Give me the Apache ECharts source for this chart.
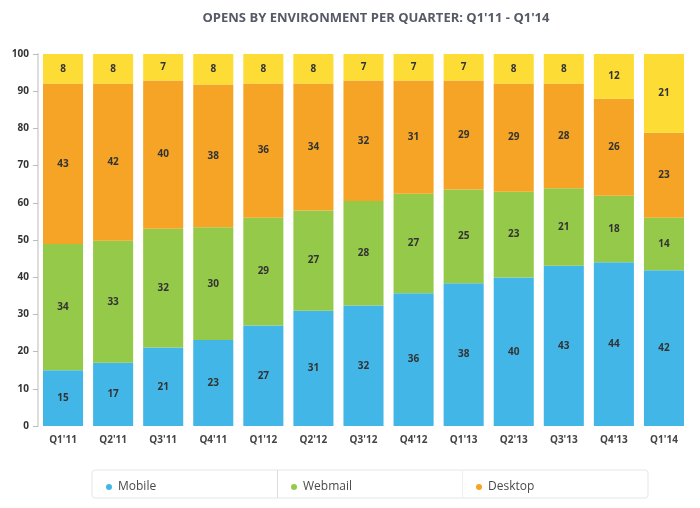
<!DOCTYPE html>
<html><head><meta charset="utf-8">
<script src="https://cdn.jsdelivr.net/npm/echarts@6/dist/echarts.min.js"></script>
<style>html,body{margin:0;padding:0;background:#fff}#c{width:700px;height:508px}</style>
</head><body><div id="c"></div>
<script>
const categories = ["Q1'11","Q2'11","Q3'11","Q4'11","Q1'12","Q2'12","Q3'12","Q4'12","Q1'13","Q2'13","Q3'13","Q4'13","Q1'14"];
const mobile  = [15.0,17.0,21.1,23.1,27.0,31.0,32.4,35.7,38.4,39.9,43.1,44.0,41.9];
const webmail = [33.9,32.8,31.9,30.3,29.0,26.9,28.1,26.7,25.2,23.1,20.8,17.9,14.1];
const desktop = [43.2,42.3,39.9,38.4,36.1,34.2,32.4,30.5,29.3,29.1,28.2,26.1,22.8];
const other   = [7.9,7.9,7.1,8.2,7.9,7.9,7.1,7.1,7.1,7.9,7.9,12.0,21.2];
const yTicks = [0,10,20,30,40,50,60,70,80,90,100];

const colors = {Mobile:'#43b6e8', Webmail:'#95c94a', Desktop:'#f5a425', Other:'#fddd35'};
const chart = echarts.init(document.getElementById('c'), null, {renderer:'canvas'});
const lbl = {show:true, position:'inside', color:'#333', fontSize:10, fontWeight:'bold', fontFamily:'Open Sans',
  formatter: p => Math.round(p.value)};
function mk(name, data){
  return {name, type:'bar', stack:'s', data, barCategoryGap:'20%', itemStyle:{color:colors[name]}, label:lbl, silent:true};
}
function lg(name, left){
  return {data:[{name, icon:'circle'}], left, top:476, itemWidth:6, itemHeight:6, itemGap:0,
    textStyle:{color:'#4a4a4a', fontSize:12, fontFamily:'Open Sans', padding:[0,0,0,1]}, selectedMode:false};
}
chart.setOption({
  animation:false,
  title:{text:"OPENS BY ENVIRONMENT PER QUARTER: Q1'11 - Q1'14", left:371, textAlign:'center', top:7,
    textStyle:{color:'#555a66', fontSize:13, fontWeight:'bold', fontFamily:'Open Sans'}},
  grid:{left:38, right:11, top:54, bottom:82},
  legend:[lg('Mobile',101), lg('Webmail',286), lg('Desktop',471)],
  graphic:[
    {type:'rect', shape:{x:92, y:470, width:556, height:28, r:3}, style:{fill:'#fff', stroke:'#e6e6e6', lineWidth:1}, z:-1},
    {type:'line', shape:{x1:277.5, y1:470, x2:277.5, y2:498}, style:{stroke:'#dcdcdc', lineWidth:1}},
    {type:'line', shape:{x1:462.5, y1:470, x2:462.5, y2:498}, style:{stroke:'#eeeeee', lineWidth:1}}
  ],
  xAxis:{type:'category', data:categories, axisLine:{show:false}, axisTick:{show:false},
    axisLabel:{color:'#444', fontSize:10, fontWeight:'bold', fontFamily:'Open Sans', margin:9}},
  yAxis:{type:'value', min:0, max:100, interval:10, splitLine:{show:false},
    axisLine:{show:true, lineStyle:{color:'#dddddd', width:2}},
    axisTick:{show:true, length:5, lineStyle:{color:'#bbbbbb'}},
    axisLabel:{color:'#333', fontSize:10, fontWeight:'bold', fontFamily:'Open Sans', margin:9,
      formatter: v => yTicks.includes(v) ? String(v) : ''}},
  series:[mk('Mobile',mobile), mk('Webmail',webmail), mk('Desktop',desktop), mk('Other',other)]
});
</script></body></html>
